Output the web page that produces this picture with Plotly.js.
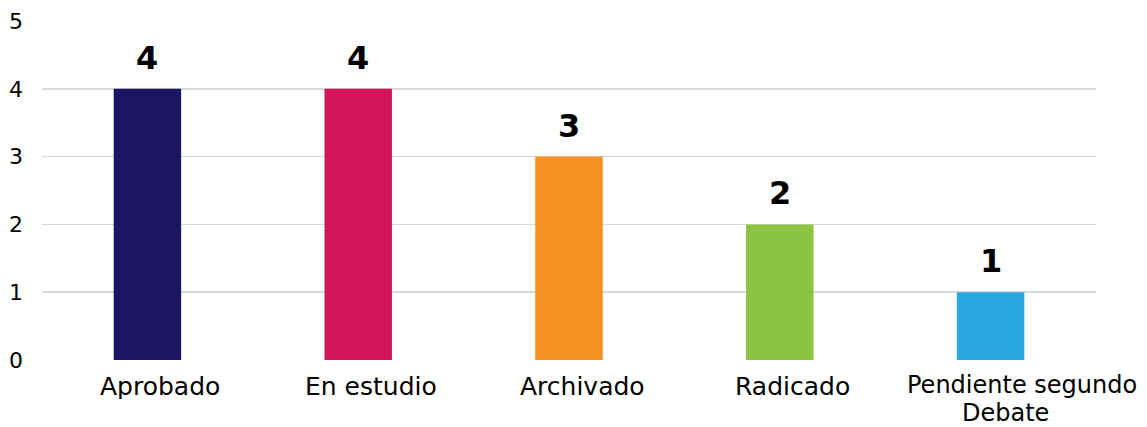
<!DOCTYPE html>
<html><head><meta charset="utf-8">
<script src="https://cdn.plot.ly/plotly-3.0.1.min.js"></script>
<style>html,body{margin:0;padding:0;background:#fff}#chart{width:1147px;height:427px}</style>
</head><body><div id="chart"></div>
<script>
const categories = ["Aprobado", "En estudio", "Archivado", "Radicado", "Pendiente segundo<br>Debate"];
const values = [4, 4, 3, 2, 1];
const colors = ["#1C1563", "#D3145A", "#F39221", "#8BC441", "#29A8E0"];
const yTicks = [0, 1, 2, 3, 4, 5];

const trace = {
  type: "bar", x: categories, y: values,
  marker: {color: colors},
  hoverinfo: "none"
};
const labelAnn = categories.map((c, i) => ({
  x: c, y: values[i], xref: "x", yref: "y", text: String(values[i]),
  showarrow: false, yanchor: "bottom", yshift: 10,
  font: {family: "'DejaVu Sans', sans-serif", size: 32, weight: 900, color: "#000"}
}));
const catAnn = [];
categories.forEach((c, i) => {
  const lines = c.split("<br>");
  const multi = lines.length > 1;
  lines.forEach((ln, k) => {
    let xs = 13;
    if (multi) xs = k === 0 ? 31 : 15;
    catAnn.push({
      x: c, y: 0, xref: "x", yref: "y", text: ln,
      showarrow: false, yanchor: "top", yshift: (multi ? -10 : -12) - 28 * k, xshift: xs,
      height: multi ? 28 : 26, borderpad: 0,
      font: {family: "'DejaVu Sans', sans-serif", size: multi ? 24 : 25, color: "#000"}
    });
  });
});
const layout = {
  width: 1147, height: 427,
  margin: {l: 42, r: 51, t: 21, b: 67},
  paper_bgcolor: "#fff", plot_bgcolor: "#fff",
  bargap: 0.68, showlegend: false,
  xaxis: {range: [-0.5, 4.5], showticklabels: false, showgrid: false, zeroline: false, showline: false, fixedrange: true},
  yaxis: {range: [0, 5], tickvals: yTicks, showgrid: true, gridcolor: "#D9D9D9", gridwidth: 1.5,
          zeroline: false, showline: false, ticklabelstandoff: 18,
          tickfont: {family: "'DejaVu Sans', sans-serif", size: 22, color: "#000"}},
  annotations: labelAnn.concat(catAnn)
};
Plotly.newPlot("chart", [trace], layout, {displayModeBar: false, staticPlot: true});
</script></body></html>
